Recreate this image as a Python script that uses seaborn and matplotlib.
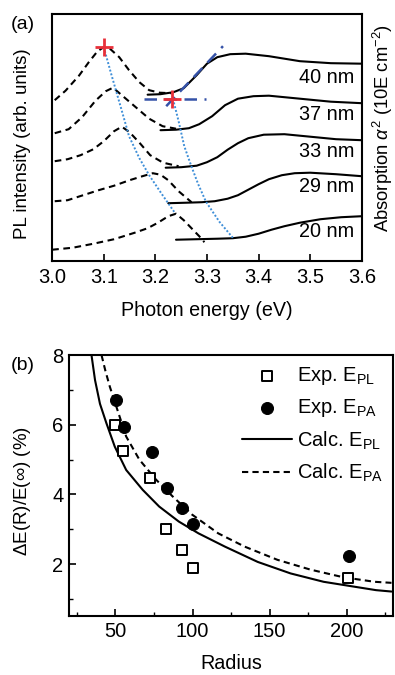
import matplotlib
matplotlib.use("Agg")
import matplotlib.pyplot as plt
import seaborn as sns
import pandas as pd
from matplotlib.ticker import MultipleLocator

sns.set_style("ticks")
plt.rcParams['font.family'] = ['Liberation Sans', 'DejaVu Sans']
plt.rcParams['mathtext.fontset'] = 'custom'
plt.rcParams['mathtext.rm'] = 'Liberation Sans'
plt.rcParams['mathtext.it'] = 'Liberation Sans:italic'
plt.rcParams['text.color'] = 'k'
plt.rcParams['axes.labelcolor'] = 'k'
plt.rcParams['xtick.color'] = 'k'
plt.rcParams['ytick.color'] = 'k'

# ---- panel (a): PL (dashed) and absorption (solid) spectra, arbitrary offsets
sizes = ['40 nm', '37 nm', '33 nm', '29 nm', '20 nm']

pl_ev = {
    '40 nm': [3.005, 3.026, 3.052, 3.071, 3.088, 3.10, 3.113, 3.130, 3.149, 3.169, 3.188, 3.208, 3.230],
    '37 nm': [3.005, 3.032, 3.058, 3.084, 3.104, 3.118, 3.136, 3.162, 3.188, 3.214, 3.240],
    '33 nm': [3.005, 3.03, 3.055, 3.08, 3.10, 3.12, 3.135, 3.15, 3.17, 3.19, 3.215, 3.245],
    '29 nm': [3.005, 3.03, 3.06, 3.09, 3.12, 3.15, 3.175, 3.195, 3.21, 3.225, 3.245, 3.27],
    '20 nm': [3.0, 3.04, 3.08, 3.12, 3.16, 3.185, 3.205, 3.225, 3.24, 3.255, 3.27, 3.285, 3.295],
}
pl_int = {
    '40 nm': [161, 170.5, 185.5, 199, 210, 214, 212, 204, 191, 179, 171, 168.5, 168],
    '37 nm': [128, 132, 144, 160.5, 170, 173.5, 165.5, 154, 142.5, 135, 132.5],
    '33 nm': [100, 102, 106, 112, 120, 130, 134.5, 129, 118, 106, 98.5, 95],
    '29 nm': [60, 61, 66, 71, 75.5, 81, 85, 88, 86.5, 81, 70, 59],
    '20 nm': [11.5, 13.5, 17.5, 22, 28.5, 33, 38.5, 45, 47.5, 41, 33, 25, 19],
}
abs_ev = {
    '40 nm': [3.185, 3.21, 3.235, 3.255, 3.28, 3.30, 3.32, 3.345, 3.375, 3.42, 3.48, 3.54, 3.60],
    '37 nm': [3.21, 3.24, 3.265, 3.285, 3.31, 3.335, 3.36, 3.39, 3.42, 3.48, 3.54, 3.60],
    '33 nm': [3.22, 3.25, 3.28, 3.30, 3.32, 3.34, 3.36, 3.38, 3.41, 3.45, 3.50, 3.55, 3.60],
    '29 nm': [3.225, 3.26, 3.29, 3.315, 3.34, 3.36, 3.38, 3.40, 3.42, 3.445, 3.47, 3.50, 3.55, 3.60],
    '20 nm': [3.24, 3.28, 3.32, 3.35, 3.375, 3.40, 3.425, 3.45, 3.48, 3.52, 3.56, 3.60],
}
abs_int = {
    '40 nm': [166.5, 167, 169, 173, 186, 197.5, 204, 207, 207.5, 205, 200, 198, 197.5],
    '37 nm': [131, 131.5, 133, 137, 145, 156, 162.5, 165, 165.5, 162.5, 159.5, 158],
    '33 nm': [93.5, 94, 95.5, 99, 104, 111.5, 118, 123, 126.5, 127, 124.5, 122, 121],
    '29 nm': [58, 58.5, 59, 60, 62.5, 66, 71.5, 77, 82, 86, 88, 88.5, 87, 85],
    '20 nm': [21.5, 22, 22.5, 23, 24.5, 27.5, 31.5, 35, 38.5, 42, 44, 45],
}
label_y = [183.5, 147, 110, 75, 29.5]

# guide lines (PL peak trend, absorption edge trend)
peak_ev = [3.10, 3.114, 3.133, 3.149, 3.169, 3.188, 3.214, 3.237]
peak_y = [214, 188, 154, 125, 103, 86, 66, 49]
edge_ev = [3.234, 3.245, 3.256, 3.269, 3.283, 3.298, 3.324, 3.35]
edge_y = [162.5, 140, 115, 96, 77, 59.5, 39.5, 23.5]
base_ev = [3.178, 3.298]
base_y = [162.5, 162.5]
tang_ev = [3.221, 3.331]
tang_y = [155, 215]
cross_ev = [3.10, 3.233]
cross_y = [214, 162.5]

# ---- panel (b)
r_pl = [50, 55, 72.5, 83, 93, 100.5, 201]
e_pl = [6.0, 5.25, 4.47, 3.0, 2.4, 1.9, 1.6]
r_pa = [50.5, 55.5, 73.5, 83.5, 93, 100.5, 201.5]
e_pa = [6.7, 5.92, 5.23, 4.18, 3.62, 3.15, 2.22]
calc_r_pl = [34.5, 36.8, 40, 44.2, 49.6, 57, 67.7, 78.4, 91.1, 103.9, 121, 142.3, 163.6, 185, 219, 229]
calc_pl = [8.0, 7.28, 6.6, 6.04, 5.37, 4.7, 4.13, 3.65, 3.22, 2.88, 2.5, 2.06, 1.73, 1.49, 1.25, 1.21]
calc_r_pa = [41, 43.5, 46.4, 50.6, 57, 65.5, 76.2, 86.9, 99.7, 116.7, 133.8, 155.1, 176.4, 197.8, 218, 229]
calc_pa = [8.0, 7.55, 7.09, 6.52, 5.66, 5.0, 4.43, 3.95, 3.42, 2.88, 2.5, 2.12, 1.84, 1.62, 1.49, 1.46]

fig = plt.figure(figsize=(3.95, 6.75), dpi=100)
ax1 = fig.add_axes([0.132, 0.613, 0.784, 0.366])
ax2 = fig.add_axes([0.175, 0.087, 0.82, 0.387])

for s, ly in zip(sizes, label_y):
    sns.lineplot(x=pl_ev[s], y=pl_int[s], ax=ax1, color='k', lw=1.5,
                 linestyle=(0, (3.2, 2.2)), sort=False, estimator=None)
    sns.lineplot(x=abs_ev[s], y=abs_int[s], ax=ax1, color='k', lw=1.5,
                 sort=False, estimator=None)
    ax1.text(3.585, ly, s, ha='right', va='center', fontsize=14.3)

sns.lineplot(x=peak_ev, y=peak_y, ax=ax1, color='#3f8fd8', lw=1.4,
             linestyle=(0, (1, 1)), sort=False, estimator=None)
sns.lineplot(x=edge_ev, y=edge_y, ax=ax1, color='#3f8fd8', lw=1.4,
             linestyle=(0, (1, 1)), sort=False, estimator=None)
sns.lineplot(x=base_ev, y=base_y, ax=ax1, color='#3552a8', lw=1.8,
             linestyle=(0, (5, 3)), sort=False, estimator=None)
sns.lineplot(x=tang_ev, y=tang_y, ax=ax1, color='#3552a8', lw=1.8,
             linestyle=(0, (5, 3)), sort=False, estimator=None)
sns.scatterplot(x=cross_ev, y=cross_y, ax=ax1, marker='+', s=180,
                color='#e8303a', linewidth=2, zorder=5)

ax1.set_xlim(3.0, 3.6)
ax1.set_ylim(0, 247)
ax1.set_yticks([])
ax1.xaxis.set_major_locator(MultipleLocator(0.1))
ax1.tick_params(axis='x', direction='in', length=5, width=1.2, labelsize=14.5, pad=5)
ax1.set_xlabel('')
ax1.set_ylabel('')
ax1.text(0.5, -0.198, 'Photon energy (eV)', transform=ax1.transAxes,
         ha='center', va='center', fontsize=14.2)
ax1.text(-0.097, 0.474, 'PL intensity (arb. units)', transform=ax1.transAxes,
         ha='center', va='center', rotation=90, fontsize=13.5)
ax1.text(1.068, 0.54, r'Absorption $\alpha^2$ (10E cm$^{-2}$)', transform=ax1.transAxes,
         ha='center', va='center', rotation=90, fontsize=13.2)

sns.lineplot(x=calc_r_pl, y=calc_pl, ax=ax2, color='k', lw=1.5,
             sort=False, estimator=None, label=r'Calc. E$_{\mathrm{PL}}$')
sns.lineplot(x=calc_r_pa, y=calc_pa, ax=ax2, color='k', lw=1.5,
             linestyle=(0, (3, 2)), sort=False, estimator=None,
             label=r'Calc. E$_{\mathrm{PA}}$')
sns.scatterplot(x=r_pl, y=e_pl, ax=ax2, marker='s', s=45, facecolor='white',
                edgecolor='k', linewidth=1.4, zorder=4, label=r'Exp. E$_{\mathrm{PL}}$')
sns.scatterplot(x=r_pa, y=e_pa, ax=ax2, marker='o', s=75, color='k',
                edgecolor='k', zorder=4, label=r'Exp. E$_{\mathrm{PA}}$')

h, l = ax2.get_legend_handles_labels()
order = [2, 3, 0, 1]
ax2.legend([h[i] for i in order], [l[i] for i in order], loc='upper right',
           bbox_to_anchor=(1.0, 1.0), frameon=False, fontsize=14.5,
           handlelength=2.5, handletextpad=0.25, labelspacing=0.5,
           borderaxespad=0.1)

ax2.set_xlim(20, 230)
ax2.set_ylim(0.5, 8)
ax2.xaxis.set_major_locator(MultipleLocator(50))
ax2.xaxis.set_minor_locator(MultipleLocator(25))
ax2.yaxis.set_major_locator(MultipleLocator(2))
ax2.yaxis.set_minor_locator(MultipleLocator(1))
ax2.tick_params(which='major', direction='in', length=5, width=1.2, labelsize=14.5, pad=4)
ax2.tick_params(which='minor', direction='in', length=3, width=1.0)
ax2.set_xlabel('')
ax2.set_ylabel('')
ax2.text(0.5, -0.18, 'Radius', transform=ax2.transAxes,
         ha='center', va='center', fontsize=14.2)
ax2.text(-0.145, 0.479, r'$\Delta$E(R)/E($\infty$) (%)', transform=ax2.transAxes,
         ha='center', va='center', rotation=90, fontsize=13.5)

for ax in (ax1, ax2):
    for sp in ax.spines.values():
        sp.set_linewidth(1.5)
        sp.set_color('k')

fig.text(0.058, 0.963, '(a)', ha='center', va='center', fontsize=14)
fig.text(0.058, 0.459, '(b)', ha='center', va='center', fontsize=14)

fig.savefig('out.png', dpi=100)
